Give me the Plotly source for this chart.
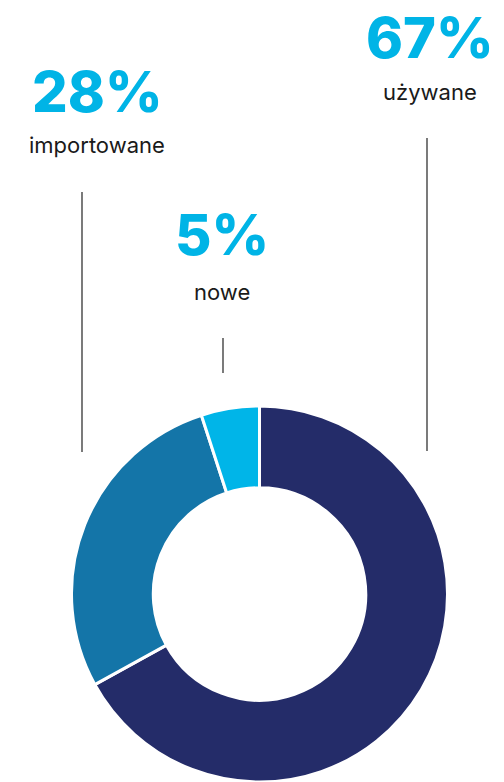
import plotly.graph_objects as go

categories = ["używane", "importowane", "nowe"]
values = [67, 28, 5]
colors = ["#242c69", "#1475a8", "#00b5e8"]

# page body has an 8px margin: figure is drawn at offset (8, 8)
OFF = 8
W, H = 504 - OFF, 782 - OFF

def px(x):
    return (x - OFF) / W

def py(y):
    return 1 - (y - OFF) / H

fig = go.Figure()
fig.add_trace(go.Pie(
    labels=categories,
    values=values,
    sort=False,
    direction="clockwise",
    rotation=0,
    hole=0.565,
    textinfo="none",
    hoverinfo="label+percent",
    marker=dict(colors=colors, line=dict(color="white", width=3)),
    domain=dict(x=[px(66), px(453)], y=[0, py(406)]),
    showlegend=False,
))

# label positions (layout only)
label_pos = {
    "używane": (430, 38, 92, 427, 138, 451),
    "importowane": (97, 92, 145, 82, 192, 452),
    "nowe": (222, 235, 292, 223, 338, 373),
}

annotations = []
shapes = []
for cat, val in zip(categories, values):
    cx, ny, ly, lx, y0, y1 = label_pos[cat]
    annotations.append(dict(
        x=px(cx), y=py(ny), xref="paper", yref="paper",
        text=f"{val}%", showarrow=False, xanchor="center", yanchor="middle",
        font=dict(family="Inter", size=56, color="#00b4e6", weight=800),
    ))
    annotations.append(dict(
        x=px(cx), y=py(ly), xref="paper", yref="paper",
        text=cat, showarrow=False, xanchor="center", yanchor="middle",
        font=dict(family="Inter", size=22, color="#1a1a1a", weight=400),
    ))
    shapes.append(dict(
        type="line", xref="paper", yref="paper",
        x0=px(lx), x1=px(lx), y0=py(y0), y1=py(y1),
        line=dict(color="#333333", width=1.3),
    ))

fig.update_layout(
    width=W, height=H, autosize=False,
    margin=dict(l=0, r=0, t=0, b=0),
    paper_bgcolor="white", plot_bgcolor="white",
    annotations=annotations, shapes=shapes,
)

fig.write_html("out.html")
